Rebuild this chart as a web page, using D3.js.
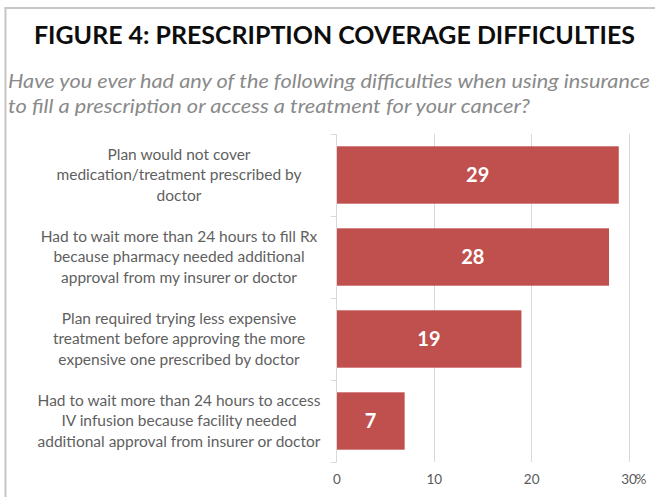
<!DOCTYPE html>
<html><head><meta charset="utf-8">
<script src="https://cdn.jsdelivr.net/npm/d3@7"></script>
<style>html,body{margin:0;padding:0;background:#fff;}svg{display:block;}</style>
</head><body>
<svg id="chart" width="655" height="497"></svg>
<script>
const titleText = "FIGURE 4: PRESCRIPTION COVERAGE DIFFICULTIES";
const subtitleLines = [
  "Have you ever had any of the following difficulties when using insurance",
  "to fill a prescription or access a treatment for your cancer?"
];
const categories = [
  ["Plan would not cover", "medication/treatment prescribed by", "doctor"],
  ["Had to wait more than 24 hours to fill Rx", "because pharmacy needed additional", "approval from my insurer or doctor"],
  ["Plan required trying less expensive", "treatment before approving the more", "expensive one prescribed by doctor"],
  ["Had to wait more than 24 hours to access", "IV infusion because facility needed", "additional approval from insurer or doctor"]
];
const values = [29, 28, 19, 7];
const tickValues = [0, 10, 20, 30];

const svg = d3.select("#chart");
const font = "Lato, 'Open Sans', sans-serif";

// frame
svg.append("line").attr("x1", 5.5).attr("x2", 5.5).attr("y1", 8).attr("y2", 497)
  .attr("stroke", "#c6c6c6").attr("stroke-width", 2);
svg.append("line").attr("x1", 4.5).attr("x2", 655).attr("y1", 8).attr("y2", 8)
  .attr("stroke", "#c6c6c6").attr("stroke-width", 2);

// title
svg.append("text").attr("x", 334.5).attr("y", 43.5).attr("text-anchor", "middle")
  .attr("font-family", font).attr("font-weight", 700).attr("font-size", 25)
  .attr("fill", "#0d0d0d")
  .attr("textLength", 601).attr("lengthAdjust", "spacingAndGlyphs")
  .text(titleText);

// subtitle
const subLens = [642, 522];
svg.selectAll("text.sub").data(subtitleLines).join("text").attr("class", "sub")
  .attr("x", 8).attr("y", (d, i) => 88 + i * 25)
  .attr("font-family", font).attr("font-style", "italic").attr("font-size", 19)
  .attr("fill", "#8a8a8a")
  .attr("textLength", (d, i) => subLens[i]).attr("lengthAdjust", "spacingAndGlyphs")
  .text(d => d);

// scales
const x = d3.scaleLinear().domain([0, 30]).range([336.5, 628.5]);
const y = d3.scaleBand().domain(d3.range(values.length)).range([134, 462]).paddingInner(0.3).paddingOuter(0.15);

// gridlines
svg.append("g").selectAll("line").data(tickValues.slice(1)).join("line")
  .attr("x1", d => Math.round(x(d)) + 0.5).attr("x2", d => Math.round(x(d)) + 0.5)
  .attr("y1", 134).attr("y2", 462)
  .attr("stroke", "#d9d9d9").attr("stroke-width", 1);

// bars
svg.append("g").selectAll("rect").data(values).join("rect")
  .attr("x", x(0)).attr("y", (d, i) => y(i))
  .attr("width", d => x(d) - x(0)).attr("height", y.bandwidth())
  .attr("fill", "#C0504D");

// value labels
svg.append("g").selectAll("text").data(values).join("text")
  .attr("x", d => (x(0) + x(d)) / 2).attr("y", (d, i) => y(i) + y.bandwidth() / 2)
  .attr("dy", "0.35em").attr("text-anchor", "middle")
  .attr("font-family", font).attr("font-weight", 700).attr("font-size", 20)
  .attr("fill", "#ffffff").text(d => d);

// y axis (category boundaries)
const yStep = (462 - 134) / values.length;
const yAxisG = svg.append("g");
yAxisG.append("line").attr("x1", 336.5).attr("x2", 336.5).attr("y1", 134).attr("y2", 462)
  .attr("stroke", "#d9d9d9");
yAxisG.selectAll("line.tk").data(d3.range(values.length + 1)).join("line").attr("class", "tk")
  .attr("x1", 331).attr("x2", 336.5)
  .attr("y1", d => Math.round(134 + d * yStep) + 0.5).attr("y2", d => Math.round(134 + d * yStep) + 0.5)
  .attr("stroke", "#d9d9d9");

// category labels
const catG = svg.append("g").selectAll("text").data(categories).join("text")
  .attr("font-family", font).attr("font-size", 15.5).attr("fill", "#5f5f5f")
  .attr("text-anchor", "middle");
catG.selectAll("tspan").data((d, i) => d.map((line, j) => ({line, j, i}))).join("tspan")
  .attr("x", 179)
  .attr("y", d => 134 + d.i * yStep + yStep / 2 + (d.j - 1) * 20.5)
  .attr("dy", "0.35em")
  .text(d => d.line);

// x axis
const xAxis = d3.axisBottom(x).tickValues(tickValues).tickSize(0).tickPadding(0);
const xg = svg.append("g").attr("transform", "translate(0,474)").call(xAxis);
xg.select(".domain").remove();
xg.selectAll("text").attr("font-family", font).attr("font-size", 13.5).attr("fill", "#595959")
  .attr("dy", "0.71em");
svg.append("text").attr("x", x(30) + 7).attr("y", 474).attr("dy", "0.71em")
  .attr("font-family", font).attr("font-size", 13.5).attr("fill", "#595959").text("%");
</script>
</body></html>
